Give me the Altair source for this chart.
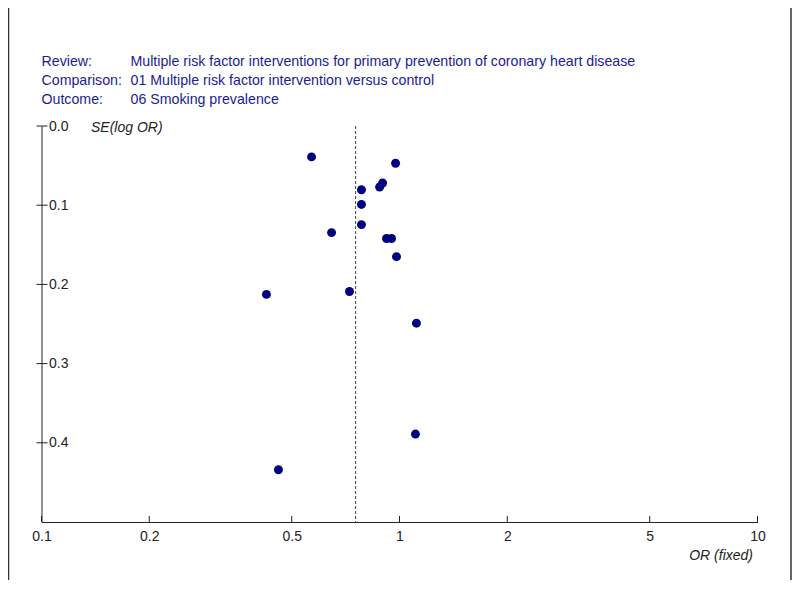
import altair as alt
import pandas as pd

# ---- data ----
odds_ratio = [0.568, 0.975, 0.897, 0.880, 0.783, 0.783, 0.783, 0.646,
              0.920, 0.950, 0.981, 0.425, 0.725, 1.115, 1.108, 0.459]
se_log_or = [0.039, 0.047, 0.072, 0.077, 0.0805, 0.099, 0.1245, 0.1346,
             0.142, 0.142, 0.165, 0.2126, 0.209, 0.249, 0.389, 0.434]
pooled_or = [0.754]
x_ticks = [0.1, 0.2, 0.5, 1, 2, 5, 10]
y_ticks = [0.0, 0.1, 0.2, 0.3, 0.4]
header_keys = ["Review:", "Comparison:", "Outcome:"]
header_values = [
    "Multiple risk factor interventions for primary prevention of coronary heart disease",
    "01 Multiple risk factor intervention versus control",
    "06 Smoking prevalence",
]

W, H = 716, 396
FONT = "Liberation Sans"
BLUE_TEXT = "#1c1c96"
NAVY = "#000080"
AXIS = "#222222"

points = pd.DataFrame({"or": odds_ratio, "se": se_log_or})
xt = pd.DataFrame({"v": x_ticks})
yt = pd.DataFrame({"v": y_ticks})
pooled = pd.DataFrame({"v": pooled_or})

xscale = alt.Scale(type="log", domain=[0.1, 10])
yscale = alt.Scale(domain=[0, 0.5], reverse=True, nice=False)

base = alt.Chart(points).mark_circle(size=80, color=NAVY, opacity=1).encode(
    x=alt.X("or:Q", scale=xscale,
            axis=alt.Axis(values=x_ticks, format="~g", ticks=False, grid=False,
                          domainColor=AXIS, labelColor=AXIS, labelFont=FONT,
                          labelFontSize=14, labelPadding=7, labelFlush=False,
                          title="OR (fixed)", titleFont=FONT, titleFontSize=14,
                          titleFontStyle="italic", titleFontWeight="normal",
                          titleColor=AXIS, titleAnchor="end", titleAlign="right",
                          titleX=711, titleY=33, titleBaseline="middle")),
    y=alt.Y("se:Q", scale=yscale,
            axis=alt.Axis(values=y_ticks, format=".1f", ticks=False, grid=False,
                          domainColor=AXIS, labelColor=AXIS, labelFont=FONT,
                          labelFontSize=14, labelAlign="left", labelPadding=-7,
                          labelBaseline="middle",
                          title="SE(log OR)", titleFont=FONT, titleFontSize=14,
                          titleFontStyle="italic", titleFontWeight="normal",
                          titleColor=AXIS, titleAngle=0, titleAlign="left",
                          titleX=49, titleY=1, titleBaseline="middle")),
)

pooled_line = alt.Chart(pooled).mark_rule(color="#444444", strokeDash=[3, 2],
                                          strokeWidth=1).encode(
    x=alt.X("v:Q", scale=xscale),
    y=alt.value(0), y2=alt.value(H),
)

y_tick_marks = alt.Chart(yt).mark_rule(color=AXIS, strokeWidth=1).encode(
    y=alt.Y("v:Q", scale=yscale),
    x=alt.value(-5), x2=alt.value(6),
)

x_tick_marks = alt.Chart(xt).mark_rule(color=AXIS, strokeWidth=1).encode(
    x=alt.X("v:Q", scale=xscale),
    y=alt.value(H), y2=alt.value(H - 6),
)

borders = [
    alt.Chart(pd.DataFrame({"a": [0]})).mark_rule(color="#333333", strokeWidth=1.5).encode(
        x=alt.value(-33), y=alt.value(-118), y2=alt.value(454)),
    alt.Chart(pd.DataFrame({"a": [0]})).mark_rule(color="#333333", strokeWidth=1.5).encode(
        x=alt.value(749.5), y=alt.value(-118), y2=alt.value(455)),
]

header = []
for i, (k, v) in enumerate(zip(header_keys, header_values)):
    yy = -64.5 + 19 * i
    header.append(
        alt.Chart(pd.DataFrame({"t": [k]})).mark_text(
            align="left", baseline="middle", font=FONT, fontSize=14.2, color=BLUE_TEXT
        ).encode(text="t:N", x=alt.value(0), y=alt.value(yy)))
    header.append(
        alt.Chart(pd.DataFrame({"t": [v]})).mark_text(
            align="left", baseline="middle", font=FONT, fontSize=14.2, color=BLUE_TEXT
        ).encode(text="t:N", x=alt.value(89), y=alt.value(yy)))

chart = alt.layer(pooled_line, y_tick_marks, x_tick_marks, base, *borders, *header).properties(
    width=W, height=H,
    background="white",
    autosize=alt.AutoSizeParams(type="none"),
    padding={"left": 33.5, "top": 118, "right": 34.5, "bottom": 58},
).configure_view(strokeWidth=0, stroke="transparent")

chart.save("out.html", embed_options={"renderer": "svg", "actions": False})
